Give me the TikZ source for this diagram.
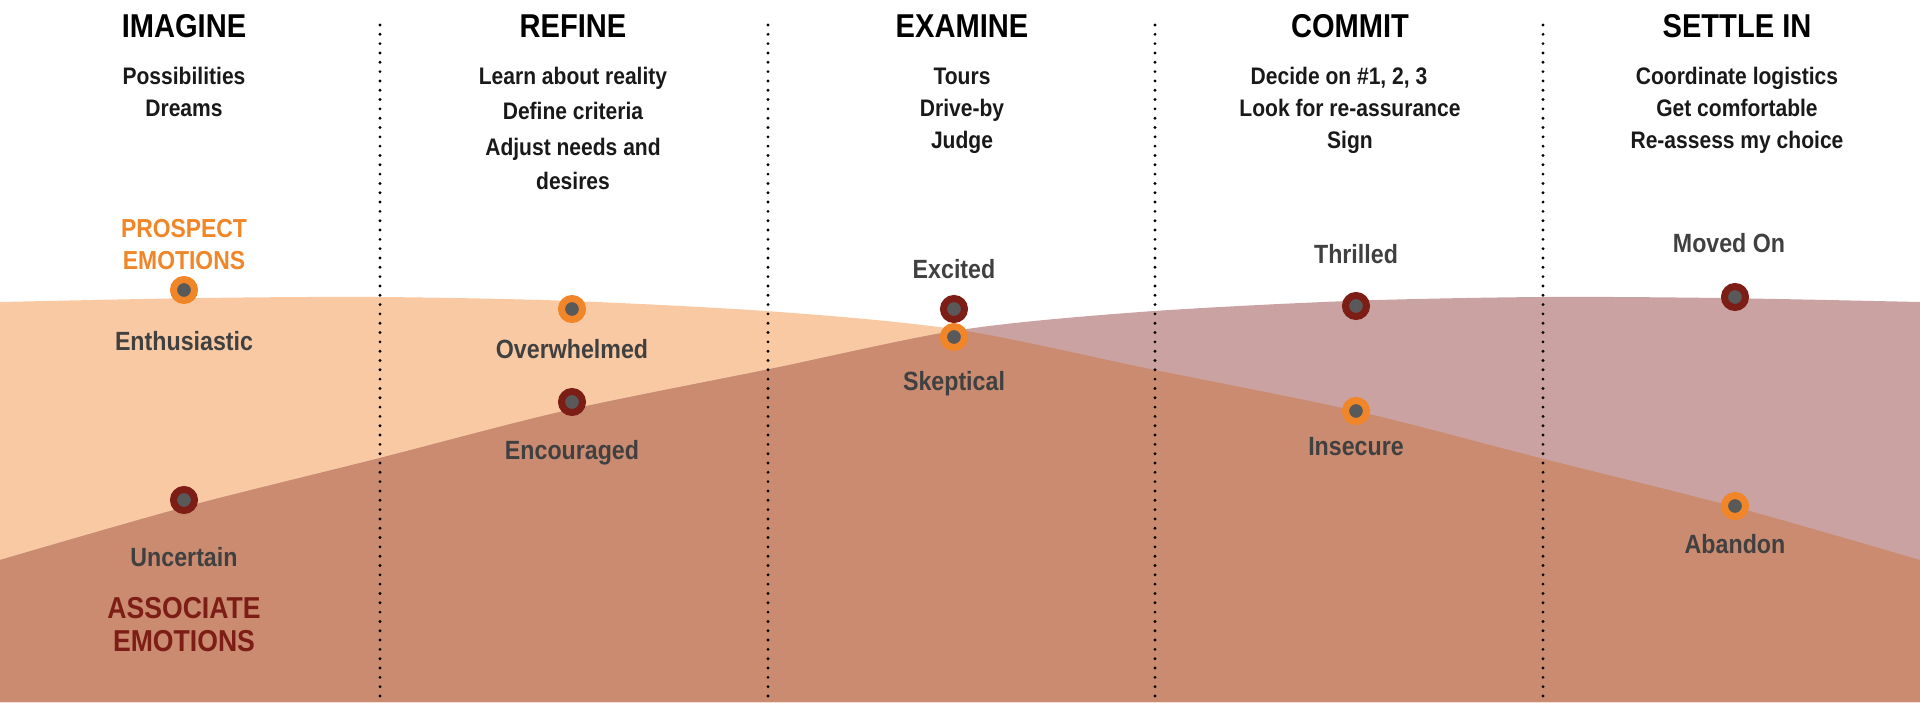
\documentclass[tikz,border=0pt]{standalone}
\usepackage{fontspec}
\setmainfont{Liberation Sans}[FakeStretch=0.88]
\usetikzlibrary{positioning}
\definecolor{prospectfill}  {RGB}{249,201,163}
\definecolor{associatefill} {RGB}{201,162,161}
\definecolor{overlapfill}   {RGB}{203,139,112}
\definecolor{prospectorange}{RGB}{240,134, 40}
\definecolor{associatered}  {RGB}{125, 30, 22}
\definecolor{dotgray}       {RGB}{ 89, 89, 89}
\definecolor{labelgray}     {RGB}{ 64, 64, 64}

% the two emotion curves, mirrored about the middle
\newcommand{\prospectarea}{plot[smooth] coordinates {(0,302) (200,298) (380,297) (572,301) (780,312) (960,330) (1150,369) (1356,411) (1544,459) (1735,507) (1920,560)} -- (1920,702) -- (0,702) -- cycle}
\newcommand{\associatearea}{plot[smooth] coordinates {(0,560) (185,507) (376,459) (564,411) (770,369) (960,330) (1140,312) (1348,301) (1540,297) (1720,298) (1920,302)} -- (1920,702) -- (0,702) -- cycle}

\tikzset{
	stage/.style={anchor=base, inner sep=0pt, font=\bfseries\fontsize{9.4}{11}\selectfont},
	task/.style={anchor=base, inner sep=0pt, text=black!90, font=\bfseries\fontsize{6.8}{8}\selectfont},
	feeling/.style={anchor=base, inner sep=0pt, text=labelgray, font=\bfseries\fontsize{7.5}{9}\selectfont},
	pdot/.style={circle, inner sep=0pt, minimum size=0.21cm, line width=0.07cm, fill=dotgray, draw=prospectorange},
	adot/.style={pdot, draw=associatered},
	divider/.style={line width=0.9pt, line cap=round, dash pattern=on 0pt off 2.65pt}
}

\begin{document}
\begin{tikzpicture}[x=0.01cm, y=-0.01cm]
	\useasboundingbox (0,0) rectangle (1920,702);
	% areas
	\fill[prospectfill] \prospectarea;
	\fill[associatefill] \associatearea;
	\begin{scope}
		\clip \prospectarea;
		\fill[overlapfill] \associatearea;
	\end{scope}
	% column dividers
	\foreach \x in {380,768,1155,1543}
		\draw[divider] (\x,25) -- (\x,702);
	% stages
	\node[stage] (imagine) at (184,37) {IMAGINE};
	\node[stage] (refine) at (573,37) {REFINE};
	\node[stage] (examine) at (962,37) {EXAMINE};
	\node[stage] (commit) at (1350,37) {COMMIT};
	\node[stage] (settle) at (1737,37) {SETTLE IN};
	% tasks
	\node[task] (imagine1) at (184,84) {Possibilities};
	\node[task] (imagine2) at (184,116) {Dreams};
	\node[task] (refine1) at (573,84) {Learn about reality};
	\node[task] (refine2) at (573,119) {Define criteria};
	\node[task] (refine3) at (573,155) {Adjust needs and};
	\node[task] (refine4) at (573,189) {desires};
	\node[task] (examine1) at (962,84) {Tours};
	\node[task] (examine2) at (962,116) {Drive-by};
	\node[task] (examine3) at (962,148) {Judge};
	\node[task] (commit1) at (1339,84) {Decide on \#1, 2, 3};
	\node[task] (commit2) at (1350,116) {Look for re-assurance};
	\node[task] (commit3) at (1350,148) {Sign};
	\node[task] (settle1) at (1737,84) {Coordinate logistics};
	\node[task] (settle2) at (1737,116) {Get comfortable};
	\node[task] (settle3) at (1737,148) {Re-assess my choice};
	% curve names
	\node[anchor=base, inner sep=0pt, align=center, text=prospectorange, font=\bfseries\fontsize{7.4}{9}\selectfont] (prospect) at (184,237) {PROSPECT};
	\node[anchor=base, inner sep=0pt, text=prospectorange, font=\bfseries\fontsize{7.4}{9}\selectfont] (prospect2) at (184,269) {EMOTIONS};
	\node[anchor=base, inner sep=0pt, text=associatered, font=\bfseries\fontsize{8.6}{10}\selectfont] (associate) at (184,618) {ASSOCIATE};
	\node[anchor=base, inner sep=0pt, text=associatered, font=\bfseries\fontsize{8.6}{10}\selectfont] (associate2) at (184,651) {EMOTIONS};
	% prospect emotions
	\node[pdot] (enthusiastic) at (184,290) {};
	\node[pdot] (overwhelmed) at (572,309) {};
	\node[pdot] (skeptical) at (954,337) {};
	\node[pdot] (insecure) at (1356,411) {};
	\node[pdot] (abandon) at (1735,506) {};
	\node[feeling] at (184,350) {Enthusiastic};
	\node[feeling] at (572,358) {Overwhelmed};
	\node[feeling] at (954,390) {Skeptical};
	\node[feeling] at (1356,455) {Insecure};
	\node[feeling] at (1735,553) {Abandon};
	% associate emotions
	\node[adot] (uncertain) at (184,500) {};
	\node[adot] (encouraged) at (572,402) {};
	\node[adot] (excited) at (954,309) {};
	\node[adot] (thrilled) at (1356,306) {};
	\node[adot] (movedon) at (1735,297) {};
	\node[feeling] at (184,566) {Uncertain};
	\node[feeling] at (572,459) {Encouraged};
	\node[feeling] at (954,278) {Excited};
	\node[feeling] at (1356,263) {Thrilled};
	\node[feeling] at (1729,252) {Moved On};
\end{tikzpicture}
\end{document}
